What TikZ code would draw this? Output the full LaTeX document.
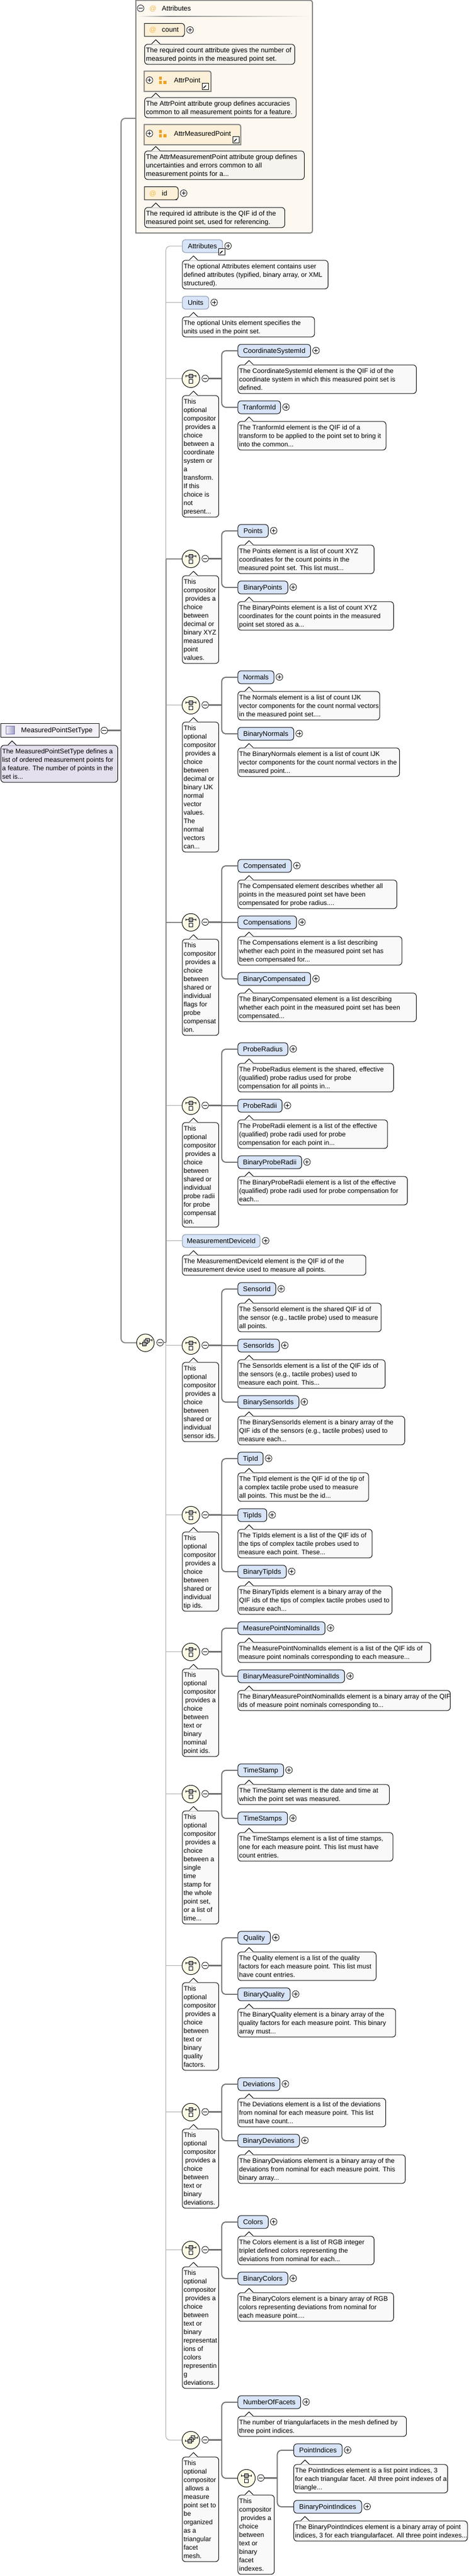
\documentclass[tikz,border=0pt]{standalone}
\usepackage{fontspec}
\setmainfont{Liberation Sans}
\usetikzlibrary{calc}
\definecolor{elfill}{HTML}{D8E4F8}
\definecolor{elgray}{HTML}{8090A4}
\definecolor{notefill}{HTML}{F9F9F9}
\definecolor{noteattr}{HTML}{F6F4EF}
\definecolor{notelav}{HTML}{E4E0EE}
\definecolor{rootfill}{HTML}{F3F0F8}
\definecolor{attrbg}{HTML}{FDF8F0}
\definecolor{attrel}{HTML}{FDF0D8}
\definecolor{compfill}{HTML}{FCFCE6}
\definecolor{orangei}{HTML}{EFA020}
\definecolor{ats}{HTML}{F2B94B}
\definecolor{linedark}{HTML}{707070}
\definecolor{linethin}{HTML}{A6A6A6}
\definecolor{boxgray}{HTML}{808080}
\newcommand{\nstrut}{\vrule width 0pt height 12.7pt depth 3.3pt}
\newcommand{\lblfont}{\fontsize{13}{16}\selectfont}
\newcommand{\ntxfont}{\fontsize{12.5}{16}\selectfont}
\tikzset{
 elemb/.style={draw=black,line width=1pt,fill=elfill,rounded corners=6pt,inner sep=0pt,minimum height=24.3pt,text height=12pt,text depth=3pt,font=\lblfont},
 elemg/.style={elemb,draw=elgray},
 notebox/.style={draw=black,line width=1pt,fill=\notecol,rounded corners=6pt,inner sep=0pt},
 notetext/.style={inner sep=0pt,align=left,font=\ntxfont},
 pmc/.style={circle,draw=black,fill=white,minimum size=12.6pt,inner sep=0pt,line width=.8pt},
 pmp/.style={pmc,path picture={
   \draw[line width=.8pt] ([xshift=2.6pt]path picture bounding box.west) -- ([xshift=-2.6pt]path picture bounding box.east);
   \draw[line width=.8pt] ([yshift=2.6pt]path picture bounding box.south) -- ([yshift=-2.6pt]path picture bounding box.north);}},
 pmm/.style={pmc,path picture={
   \draw[line width=.8pt] ([xshift=2.6pt]path picture bounding box.west) -- ([xshift=-2.6pt]path picture bounding box.east);}},
 compc/.style={circle,draw=black,fill=compfill,minimum size=33.3pt,inner sep=0pt,line width=1pt},
 thickh/.style={draw=linedark,line width=3pt},
 vline/.style={draw=linedark,line width=2pt},
 trunkthin/.style={draw=linethin,line width=1pt},
 trunkthick/.style={draw=boxgray,line width=2pt},
 plainlbl/.style={inner sep=0pt,text height=12pt,text depth=3pt,font=\lblfont},
 atsym/.style={plainlbl,text=ats},
 attrshape/.style={inner sep=0pt,minimum height=24.3pt},
 grpshape/.style={inner sep=0pt,minimum height=38pt},
 iconsq/.style={fill=orangei,draw=none},
 shortcut/.style={draw=black,fill=white,inner sep=0pt,minimum size=12pt,line width=1pt,path picture={
   \draw[line width=1.6pt] ([shift={(2.5pt,2.5pt)}]path picture bounding box.south west) -- ([shift={(-2.5pt,-2.5pt)}]path picture bounding box.north east);
   \fill ([shift={(-1.8pt,-1.8pt)}]path picture bounding box.north east) -- ++(-5pt,0pt) -- ++(5pt,-5pt) -- cycle;}},
}
\newcommand{\notecol}{notefill}
% name x1 top x2 nlines text
\newcommand{\xnote}[6]{%
 \pgfmathsetmacro\myw{(#4-#2)*0.56818}\pgfmathsetmacro\myh{6+16*#5}%
 \node[notebox,anchor=north west,minimum width=\myw pt,minimum height=\myh pt] (#1) at (#2,#3) {};
 \fill[\notecol] ([xshift=13.6pt]#1.north west) -- ([xshift=21.6pt,yshift=8pt]#1.north west) -- ([xshift=29.6pt]#1.north west) -- ([xshift=29.6pt,yshift=-1pt]#1.north west) -- ([xshift=13.6pt,yshift=-1pt]#1.north west) -- cycle;
 \draw[black,line width=1pt] ([xshift=13.6pt]#1.north west) -- ([xshift=21.6pt,yshift=8pt]#1.north west) -- ([xshift=29.6pt]#1.north west);
 \node[notetext,anchor=north west] (#1-t) at ([xshift=2.8pt,yshift=-3pt]#1.north west) {\nstrut #6\nstrut};
}
% [style] name x1 T x2 label noteR n text
\newcommand{\xel}[9][elemb]{%
 \pgfmathsetmacro\myw{(#5-#3)*0.56818}%
 \node[#1,anchor=north west,minimum width=\myw pt] (#2) at (#3,#4) {#6};
 \node[pmp] (#2-p) at (#5+19,#4+12.15) {};
 \xnote{#2-n}{#3}{#4+39}{#7}{#8}{#9}
}
% name x1 top icon n text
\newcommand{\xcomp}[6]{%
 \node[compc] (#1) at (#2+29.3,#3+16.6) {};
 \node[pmm] (#1-m) at (#2+77,#3+16) {};
 #4{#1}
 \pgfmathsetmacro\myr{#2+121}%
 \xnote{#1-n}{#2}{#3+48}{\myr}{#5}{#6}
}
\newcommand{\choiceicon}[1]{%
 \draw[black,line width=.9pt] ([shift={(-9.7pt,5pt)}]#1.center) -- ([shift={(9.7pt,5pt)}]#1.center);
 \draw[black,line width=.9pt] ([shift={(-9.7pt,7pt)}]#1.center) -- ([shift={(-9.7pt,3pt)}]#1.center);
 \draw[black,line width=.9pt] ([shift={(9.7pt,7pt)}]#1.center) -- ([shift={(9.7pt,3pt)}]#1.center);
 \draw[black,fill=gray!70,line width=.9pt] ([shift={(-3.8pt,8.3pt)}]#1.center) rectangle ([shift={(3.8pt,1.7pt)}]#1.center);
 \draw[black,fill=white,line width=.9pt] ([shift={(-3.8pt,-1.7pt)}]#1.center) rectangle ([shift={(3.8pt,-8.3pt)}]#1.center);
}
\newcommand{\seqicon}[1]{%
 \draw[black,line width=.9pt] ([shift={(-11pt,-1.5pt)}]#1.center) -- ([shift={(-6pt,-1.5pt)}]#1.center);
 \draw[black,line width=.9pt] ([shift={(-11pt,.5pt)}]#1.center) -- ([shift={(-11pt,-3.5pt)}]#1.center);
 \draw[black,line width=.9pt] ([shift={(7pt,5pt)}]#1.center) -- ([shift={(12pt,5pt)}]#1.center);
 \draw[black,line width=.9pt] ([shift={(12pt,7pt)}]#1.center) -- ([shift={(12pt,3pt)}]#1.center);
 \draw[black,fill=gray!40,line width=.9pt] ([shift={(0pt,8.5pt)}]#1.center) rectangle ([shift={(7.5pt,1.5pt)}]#1.center);
 \draw[black,fill=gray!55,line width=.9pt] ([shift={(-3pt,5pt)}]#1.center) rectangle ([shift={(4.5pt,-2pt)}]#1.center);
 \draw[black,fill=gray!70,line width=.9pt] ([shift={(-6pt,1.5pt)}]#1.center) rectangle ([shift={(1.5pt,-5.5pt)}]#1.center);
}
% comp jx first last
\newcommand{\xconn}[4]{%
 \coordinate (#1-j) at (#2,0 |- #1-m);
 \draw[thickh] (#1-m.east) -- (#1-j);
 \draw[vline,rounded corners=8pt] (#3.west) -| (#1-j) |- (#4.west);
}
\newcommand{\xmid}[2]{\draw[vline] (#1-j |- #2.west) -- (#2.west);}
\newcommand{\gicon}[1]{%
 \fill[iconsq] ([shift={(-7pt,6.7pt)}]#1) rectangle ([shift={(-1.3pt,1pt)}]#1);
 \fill[iconsq] ([shift={(-7pt,-1pt)}]#1) rectangle ([shift={(-1.3pt,-7pt)}]#1);
 \fill[iconsq] ([shift={(1pt,-1pt)}]#1) rectangle ([shift={(7pt,-7pt)}]#1);
}
\begin{document}
\begin{tikzpicture}[x=0.56818pt,y=-1pt]
\useasboundingbox (0,0) rectangle (1561.1,4876);
\fill[white] (0,0) rectangle (1561.1,4876);

% ---- Attributes group
\coordinate (attrNW) at (452,0.7);
\coordinate (attrSE) at (1040,441);
\draw[draw=boxgray,line width=2pt,fill=attrbg] (attrNW) -- (1040-8,0.7) [rounded corners=4pt] -- (1040,0.7) -- (attrSE) [sharp corners] -- (452,441) -- cycle;
\coordinate (attrin) at (452,224);
\node[pmm] (attr-m) at (468,15.7) {};
\node[atsym] (attr-at) at (509,15.7) {@};
\node[plainlbl,anchor=west] (attr-title) at (538.6,15.7) {Attributes};
\shade[left color=attrbg,right color=boxgray] (460,30.3) rectangle (565,31.9);
\shade[left color=boxgray,right color=attrbg] (565,30.3) rectangle (1030,31.9);

\renewcommand{\notecol}{noteattr}
\renewcommand{\ntxfont}{\fontsize{12.9}{16}\selectfont}
% count
\node[attrshape,anchor=north west,minimum width=75.7pt] (count) at (480.5,44.3) {};
\draw[black,line width=1pt,fill=attrel] (count.north west) -- ([xshift=-8pt]count.north east) [rounded corners=6pt] -- (count.north east) -- (count.south east) -- ([xshift=-8pt]count.south east) [sharp corners] -- (count.south west) -- cycle;
\node[atsym] (count-at) at (508.6,56.5) {@};
\node[plainlbl,anchor=west] (count-l) at (538.6,56.5) {count};
\node[pmp] (count-p) at (632.4,56.7) {};
\xnote{count-n}{480.5}{83.3}{980}{2}{The required count attribute gives the number of\\measured points in the measured point set.}
% AttrPoint
\node[grpshape,anchor=north west,minimum width=126pt] (AttrPoint) at (480,134.7) {};
\draw[boxgray,line width=2pt,fill=attrel] (AttrPoint.north west) -- ([xshift=-6pt]AttrPoint.north east) [rounded corners=4pt] -- (AttrPoint.north east) [sharp corners] -- (AttrPoint.south east) -- (AttrPoint.south west) -- cycle;
\node[pmp] (AttrPoint-p) at (497.6,151.7) {};
\coordinate (AttrPoint-i) at (541.6,152);
\gicon{AttrPoint-i}
\node[plainlbl,anchor=west] (AttrPoint-l) at (579,151.7) {AttrPoint};
\node[shortcut] (AttrPoint-s) at (683,163.5) {};
\xnote{AttrPoint-n}{480.5}{184.3}{985}{2}{The AttrPoint attribute group defines accuracies\\common to all measurement points for a feature.}
% AttrMeasuredPoint
\node[grpshape,anchor=north west,minimum width=182.3pt] (AttrMeasuredPoint) at (480,235.7) {};
\draw[boxgray,line width=2pt,fill=attrel] (AttrMeasuredPoint.north west) -- ([xshift=-6pt]AttrMeasuredPoint.north east) [rounded corners=4pt] -- (AttrMeasuredPoint.north east) [sharp corners] -- (AttrMeasuredPoint.south east) -- (AttrMeasuredPoint.south west) -- cycle;
\node[pmp] (AttrMeasuredPoint-p) at (497.6,252.7) {};
\coordinate (AttrMeasuredPoint-i) at (541.6,253);
\gicon{AttrMeasuredPoint-i}
\node[plainlbl,anchor=west] (AttrMeasuredPoint-l) at (579,252.7) {AttrMeasuredPoint};
\node[shortcut] (AttrMeasuredPoint-s) at (785,264.5) {};
\xnote{AttrMeasuredPoint-n}{480.5}{285.3}{1012}{3}{The AttrMeasurementPoint attribute group defines\\uncertainties and errors common to all\\measurement points for a...}
% id
\node[attrshape,anchor=north west,minimum width=63.7pt] (id) at (480.5,353.3) {};
\draw[black,line width=1pt,fill=attrel] (id.north west) -- ([xshift=-8pt]id.north east) [rounded corners=6pt] -- (id.north east) -- (id.south east) -- ([xshift=-8pt]id.south east) [sharp corners] -- (id.south west) -- cycle;
\node[atsym] (id-at) at (508.6,365.5) {@};
\node[plainlbl,anchor=west] (id-l) at (538.6,365.5) {id};
\node[pmp] (id-p) at (611.3,365.7) {};
\xnote{id-n}{480.5}{392.3}{947}{2}{The required id attribute is the QIF id of the\\measured point set, used for referencing.}
\renewcommand{\notecol}{notefill}
\renewcommand{\ntxfont}{\fontsize{12.5}{16}\selectfont}

% ---- root
\node[draw=black,line width=1pt,fill=rootfill,anchor=north west,inner sep=0pt,minimum width=186.4pt,minimum height=26pt] (root) at (0.9,1369.3) {};
\node[inner sep=0pt,minimum width=15.9pt,minimum height=15pt,left color=rootfill,right color=black!10!blue!30!gray!60,draw=black!30!blue!40!gray!80,line width=.8pt,anchor=west] (root-i) at (20,1382) {};
\node[plainlbl,anchor=west] (root-l) at (70,1382.3) {MeasuredPointSetType};
\node[pmm] (root-m) at (347,1382.7) {};
\renewcommand{\notecol}{notelav}
\xnote{root-n}{2}{1410.3}{391}{4}{The MeasuredPointSetType defines a\\list of ordered measurement points for\\a feature. The number of points in the\\set is...}
\renewcommand{\notecol}{notefill}

% ---- level 2 and below
\xel[elemg]{Attributes}{606}{453.3}{740}{Attributes}{1091}{3}{The optional Attributes element contains user\\defined attributes (typified, binary array, or XML\\structured).}
\node[shortcut] (Attributes-s) at (738,476.5) {};
\xel[elemg]{Units}{606}{560.3}{694}{Units}{1046}{2}{The optional Units element specifies the\\units used in the point set.}

\xcomp{c1}{606}{700.3}{\choiceicon}{14}{This\\optional\\compositor\\\hspace*{3pt}provides a\\choice\\between a\\coordinate\\system or\\a\\transform.\\If this\\choice is\\not\\present...}
\xel{CoordinateSystemId}{791}{651.3}{1033}{CoordinateSystemId}{1385}{3}{The CoordinateSystemId element is the QIF id of the\\coordinate system in which this measured point set is\\defined.}
\xel{TranformId}{791}{758.3}{933}{TranformId}{1284}{3}{The TranformId element is the QIF id of a\\transform to be applied to the point set to bring it\\into the common...}
\xconn{c1}{738}{CoordinateSystemId}{TranformId}

\xcomp{c2}{606}{1041.3}{\choiceicon}{10}{This\\compositor\\\hspace*{3pt}provides a\\choice\\between\\decimal or\\binary XYZ\\measured\\point\\values.}
\xel{Points}{791}{992.3}{892}{Points}{1244}{3}{The Points element is a list of count XYZ\\coordinates for the count points in the\\measured point set. This list must...}
\xel{BinaryPoints}{791}{1099.3}{957}{BinaryPoints}{1309}{3}{The BinaryPoints element is a list of count XYZ\\coordinates for the count points in the measured\\point set stored as a...}
\xconn{c2}{738}{Points}{BinaryPoints}

\xcomp{c3}{606}{1318.3}{\choiceicon}{15}{This\\optional\\compositor\\\hspace*{3pt}provides a\\choice\\between\\decimal or\\binary IJK\\normal\\vector\\values.\\The\\normal\\vectors\\can...}
\xel{Normals}{791}{1269.3}{911}{Normals}{1263}{3}{The Normals element is a list of count IJK\\vector components for the count normal vectors\\in the measured point set....}
\xel{BinaryNormals}{791}{1376.3}{977}{BinaryNormals}{1329}{3}{The BinaryNormals element is a list of count IJK\\vector components for the count normal vectors in the\\measured point...}
\xconn{c3}{738}{Normals}{BinaryNormals}

\xcomp{c4}{606}{1729.3}{\choiceicon}{11}{This\\compositor\\\hspace*{3pt}provides a\\choice\\between\\shared or\\individual\\flags for\\probe\\compensat\\ion.}
\xel{Compensated}{791}{1626.3}{969}{Compensated}{1320}{3}{The Compensated element describes whether all\\points in the measured point set have been\\compensated for probe radius....}
\xel{Compensations}{791}{1733.3}{986}{Compensations}{1337}{3}{The Compensations element is a list describing\\whether each point in the measured point set has\\been compensated for...}
\xel{BinaryCompensated}{791}{1840.3}{1033}{BinaryCompensated}{1385}{3}{The BinaryCompensated element is a list describing\\whether each point in the measured point set has been\\compensated...}
\xconn{c4}{738}{Compensated}{BinaryCompensated}
\xmid{c4}{Compensations}

\xcomp{c5}{606}{2076.3}{\choiceicon}{12}{This\\optional\\compositor\\\hspace*{3pt}provides a\\choice\\between\\shared or\\individual\\probe radii\\for probe\\compensat\\ion.}
\xel{ProbeRadius}{791}{1973.3}{957}{ProbeRadius}{1309}{3}{The ProbeRadius element is the shared, effective\\(qualified) probe radius used for probe\\compensation for all points in...}
\xel{ProbeRadii}{791}{2080.3}{938}{ProbeRadii}{1289}{3}{The ProbeRadii element is a list of the effective\\(qualified) probe radii used for probe\\compensation for each point in...}
\xel{BinaryProbeRadii}{791}{2187.3}{1003}{BinaryProbeRadii}{1355}{3}{The BinaryProbeRadii element is a list of the effective\\(qualified) probe radii used for probe compensation for\\each...}
\xconn{c5}{738}{ProbeRadius}{BinaryProbeRadii}
\xmid{c5}{ProbeRadii}

\xel[elemg]{MeasurementDeviceId}{606}{2336.3}{865}{MeasurementDeviceId}{1217}{2}{The MeasurementDeviceId element is the QIF id of the\\measurement device used to measure all points.}

\xcomp{c6}{606}{2530.3}{\choiceicon}{9}{This\\optional\\compositor\\\hspace*{3pt}provides a\\choice\\between\\shared or\\individual\\sensor ids.}
\xel{SensorId}{791}{2427.3}{917}{SensorId}{1268}{3}{The SensorId element is the shared QIF id of\\the sensor (e.g., tactile probe) used to measure\\all points.}
\xel{SensorIds}{791}{2534.3}{929}{SensorIds}{1281}{3}{The SensorIds element is a list of the QIF ids of\\the sensors (e.g., tactile probes) used to\\measure each point. This...}
\xel{BinarySensorIds}{791}{2641.3}{994}{BinarySensorIds}{1346}{3}{The BinarySensorIds element is a binary array of the\\QIF ids of the sensors (e.g., tactile probes) used to\\measure each...}
\xconn{c6}{738}{SensorId}{BinarySensorIds}
\xmid{c6}{SensorIds}

\xcomp{c7}{606}{2851.3}{\choiceicon}{9}{This\\optional\\compositor\\\hspace*{3pt}provides a\\choice\\between\\shared or\\individual\\tip ids.}
\xel{TipId}{791}{2748.3}{875}{TipId}{1226}{3}{The TipId element is the QIF id of the tip of\\a complex tactile probe used to measure\\all points. This must be the id...}
\xel{TipIds}{791}{2855.3}{887}{TipIds}{1238}{3}{The TipIds element is a list of the QIF ids of\\the tips of complex tactile probes used to\\measure each point. These...}
\xel{BinaryTipIds}{791}{2962.3}{952}{BinaryTipIds}{1304}{3}{The BinaryTipIds element is a binary array of the\\QIF ids of the tips of complex tactile probes used to\\measure each...}
\xconn{c7}{738}{TipId}{BinaryTipIds}
\xmid{c7}{TipIds}

\xcomp{c8}{606}{3110.3}{\choiceicon}{10}{This\\optional\\compositor\\\hspace*{3pt}provides a\\choice\\between\\text or\\binary\\nominal\\point ids.}
\xel{MeasurePointNominalIds}{791}{3069.3}{1081}{MeasurePointNominalIds}{1433}{2}{The MeasurePointNominalIds element is a list of the QIF ids of\\measure point nominals corresponding to each measure...}
\xel{BinaryMeasurePointNominalIds}{791}{3160.3}{1146}{BinaryMeasurePointNominalIds}{1498}{2}{The BinaryMeasurePointNominalIds element is a binary array of the QIF\\ids of measure point nominals corresponding to...}
\xconn{c8}{738}{MeasurePointNominalIds}{BinaryMeasurePointNominalIds}

\xcomp{c9}{606}{3379.3}{\choiceicon}{13}{This\\optional\\compositor\\\hspace*{3pt}provides a\\choice\\between a\\single\\time\\stamp for\\the whole\\point set,\\or a list of\\time...}
\xel{TimeStamp}{791}{3338.3}{943}{TimeStamp}{1295}{2}{The TimeStamp element is the date and time at\\which the point set was measured.}
\xel{TimeStamps}{791}{3429.3}{956}{TimeStamps}{1307}{3}{The TimeStamps element is a list of time stamps,\\one for each measure point. This list must have\\count entries.}
\xconn{c9}{738}{TimeStamp}{TimeStamps}

\xcomp{c10}{606}{3704.3}{\choiceicon}{10}{This\\optional\\compositor\\\hspace*{3pt}provides a\\choice\\between\\text or\\binary\\quality\\factors.}
\xel{Quality}{791}{3655.3}{899}{Quality}{1251}{3}{The Quality element is a list of the quality\\factors for each measure point. This list must\\have count entries.}
\xel{BinaryQuality}{791}{3762.3}{965}{BinaryQuality}{1316}{3}{The BinaryQuality element is a binary array of the\\quality factors for each measure point. This binary\\array must...}
\xconn{c10}{738}{Quality}{BinaryQuality}

\xcomp{c11}{606}{3981.3}{\choiceicon}{9}{This\\optional\\compositor\\\hspace*{3pt}provides a\\choice\\between\\text or\\binary\\deviations.}
\xel{Deviations}{791}{3932.3}{931}{Deviations}{1283}{3}{The Deviations element is a list of the deviations\\from nominal for each measure point. This list\\must have count...}
\xel{BinaryDeviations}{791}{4039.3}{996}{BinaryDeviations}{1348}{3}{The BinaryDeviations element is a binary array of the\\deviations from nominal for each measure point. This\\binary array...}
\xconn{c11}{738}{Deviations}{BinaryDeviations}

\xcomp{c12}{606}{4242.3}{\choiceicon}{14}{This\\optional\\compositor\\\hspace*{3pt}provides a\\choice\\between\\text or\\binary\\representat\\ions of\\colors\\representin\\g\\deviations.}
\xel{Colors}{791}{4193.3}{892}{Colors}{1244}{3}{The Colors element is a list of RGB integer\\triplet defined colors representing the\\deviations from nominal for each...}
\xel{BinaryColors}{791}{4300.3}{957}{BinaryColors}{1309}{3}{The BinaryColors element is a binary array of RGB\\colors representing deviations from nominal for\\each measure point....}
\xconn{c12}{738}{Colors}{BinaryColors}

\xcomp{c13}{606}{4602.3}{\seqicon}{12}{This\\optional\\compositor\\\hspace*{3pt}allows a\\measure\\point set to\\be\\organized\\as a\\triangular\\facet\\mesh.}
\xel{NumberOfFacets}{791}{4534.3}{1000}{NumberOfFacets}{1352}{2}{The number of triangularfacets in the mesh defined by\\three point indices.}
\xcomp{c14}{791}{4674.3}{\choiceicon}{9}{This\\compositor\\\hspace*{3pt}provides a\\choice\\between\\text or\\binary\\facet\\indexes.}
\xconn{c13}{738}{NumberOfFacets}{c14}
\xel{PointIndices}{977}{4625.3}{1138}{PointIndices}{1489}{3}{The PointIndices element is a list point indices, 3\\for each triangular facet. All three point indexes of a\\triangle...}
\xel{BinaryPointIndices}{977}{4732.3}{1203}{BinaryPointIndices}{1555}{2}{The BinaryPointIndices element is a binary array of point\\indices, 3 for each triangularfacet. All three point indexes...}
\xconn{c14}{923}{PointIndices}{BinaryPointIndices}

% main sequence
\node[compc] (main) at (484,2541.7) {};
\seqicon{main}
\node[pmm] (main-m) at (533,2541.3) {};

% ---- trunks
\coordinate (tr) at (403,0 |- root-m);
\draw[thickh] (root-m.east) -- (tr);
\draw[trunkthick,rounded corners=8pt] (attrin) -| (tr) |- (main.west);
\coordinate (tA) at (552,0 |- c2.west);
\coordinate (tB) at (552,0 |- main-m);
\draw[trunkthin,rounded corners=8pt] (Attributes.west) -| (tA);
\draw[trunkthick] (tA) -- (tB);
\draw[trunkthin,rounded corners=8pt] (tB) |- (c13.west);
\draw[trunkthick] (main-m.east) -- (tB);
\draw[trunkthick] (c2.west) -- (tA);
\draw[trunkthick] (c4.west) -- (tA |- c4.west);
\foreach \n in {Units,c1,c3,c5,MeasurementDeviceId,c6,c7,c8,c9,c10,c11,c12}{
  \draw[trunkthin] (\n.west) -- (tA |- \n.west);
}
\end{tikzpicture}
\end{document}
